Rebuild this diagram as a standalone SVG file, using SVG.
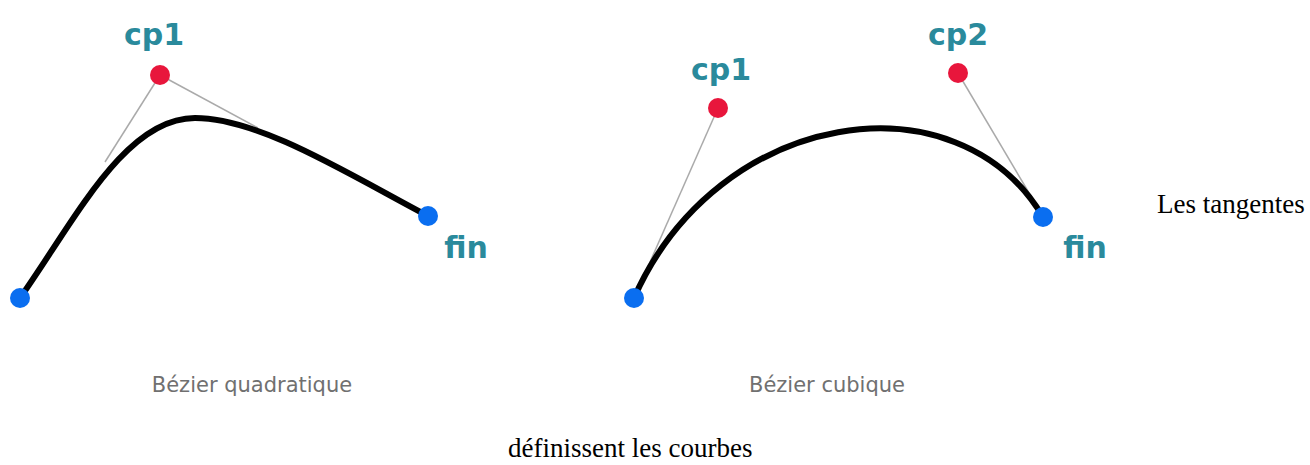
<svg xmlns="http://www.w3.org/2000/svg" width="1310" height="465" viewBox="0 0 1310 465">
<style>
.curve{fill:none;stroke:#000;stroke-width:6;stroke-linecap:round}
.tan{fill:none;stroke:#aaa;stroke-width:1.5}
.cp{fill:#e8163c}
.ep{fill:#0a6ef0}
.lbl{font-family:"DejaVu Sans",sans-serif;font-weight:bold;font-size:30px;fill:#2a8a9c}
.cap{font-family:"DejaVu Sans",sans-serif;font-size:21px;fill:#707070}
.txt{font-family:"Liberation Serif",serif;font-size:27px;fill:#000}
</style>
<rect width="1310" height="465" fill="#fff"/>
<g id="connectors">
<line class="tan" x1="160" y1="75" x2="105" y2="162"/>
<line class="tan" x1="160" y1="75" x2="258" y2="128"/>
<path class="curve" d="M20,298 C75,220 125,118 195,118 C260,118 350,175 428,216"/>
<line class="tan" x1="718" y1="108" x2="650" y2="262"/>
<line class="tan" x1="958" y1="73" x2="1035" y2="203"/>
<path class="curve" d="M634,298 C718,108 958,73 1043,217"/>
</g>
<g id="q-start"><circle class="ep" cx="20" cy="298" r="10"/></g>
<g id="q-cp1"><circle class="cp" cx="160" cy="75" r="10"/><text class="lbl" x="154" y="45" text-anchor="middle">cp1</text></g>
<g id="q-fin"><circle class="ep" cx="428" cy="216" r="10"/><text class="lbl" x="466" y="258" text-anchor="middle">fin</text></g>
<g id="c-start"><circle class="ep" cx="634" cy="298" r="10"/></g>
<g id="c-cp1"><circle class="cp" cx="718" cy="108" r="10"/><text class="lbl" x="721" y="80" text-anchor="middle">cp1</text></g>
<g id="c-cp2"><circle class="cp" cx="958" cy="73" r="10"/><text class="lbl" x="958" y="45" text-anchor="middle">cp2</text></g>
<g id="c-fin"><circle class="ep" cx="1043" cy="217" r="10"/><text class="lbl" x="1085" y="258" text-anchor="middle">fin</text></g>
<text class="cap" x="252" y="392" text-anchor="middle">Bézier quadratique</text>
<text class="cap" x="827" y="392" text-anchor="middle">Bézier cubique</text>
<text class="txt" x="1157" y="213">Les tangentes</text>
<text class="txt" x="508" y="457">définissent les courbes</text>
</svg>
